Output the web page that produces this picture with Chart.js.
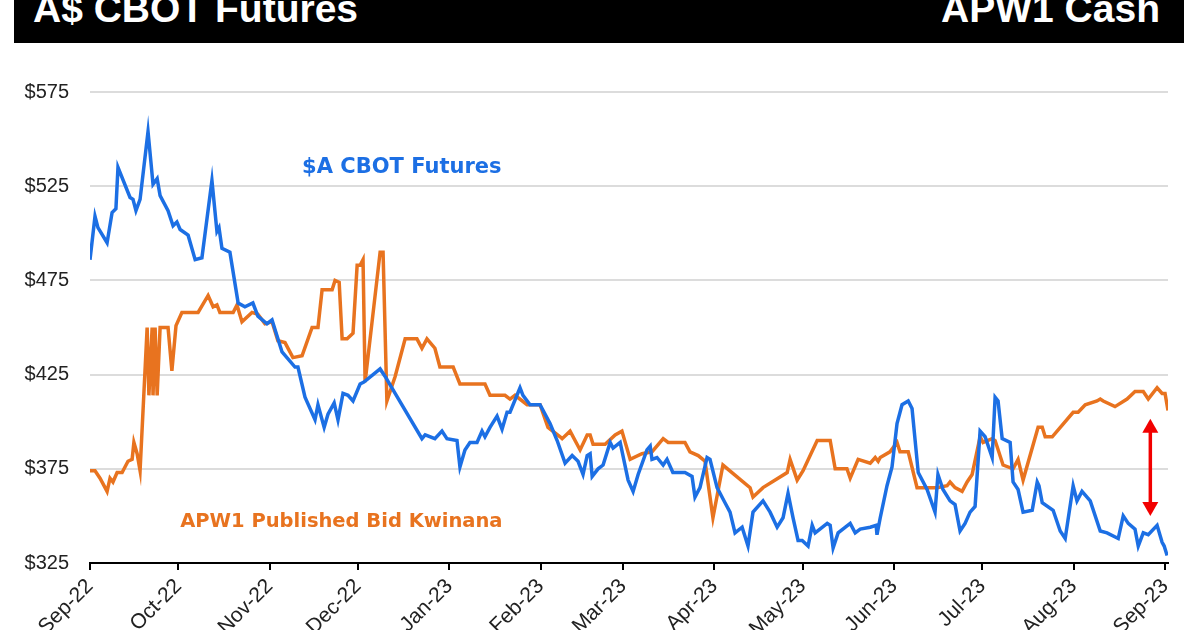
<!DOCTYPE html>
<html>
<head>
<meta charset="utf-8">
<script src="https://cdn.jsdelivr.net/npm/chart.js@4.4.0/dist/chart.umd.min.js"></script>
<style>
  body { margin: 0; background: #fff; }
  #wrap { position: relative; width: 1200px; height: 630px; overflow: hidden; }
  #bar { position: absolute; left: 14px; top: 0; width: 1170px; height: 43px; background: #000; overflow: hidden; }
  #bar span { position: absolute; top: -11px; font: bold 39px/39px "Liberation Sans", Arial, sans-serif; color: #fff; white-space: nowrap; }
  canvas { position: absolute; left: 0; top: 0; }
</style>
</head>
<body>
<div id="wrap">
  <canvas id="chart" width="1200" height="630"></canvas>
  <div id="bar"><span style="left:19px">A$ CBOT Futures</span><span style="right:24px">APW1 Cash</span></div>
</div>
<script>
// x values are days since 1 Sep 2022
const monthDays = [ 0, 30, 61, 91, 122, 153, 181, 212, 242, 273, 303, 334, 365 ]
const monthLabels = [ 'Sep-22', 'Oct-22', 'Nov-22', 'Dec-22', 'Jan-23', 'Feb-23', 'Mar-23', 'Apr-23', 'May-23', 'Jun-23', 'Jul-23', 'Aug-23', 'Sep-23' ]
const yTicks = [ 325, 375, 425, 475, 525, 575 ]

// $A CBOT futures
const futDay = [ 0,1.7,2.7,5.8,7.5,8.8,9.5,13.6,14.6,15.6,17,19.7,21.4,22.8,23.8,26.5,28.2,29.5,30.6,33.3,35.7,38,41.4,43.1,43.8,44.8,47.5,50.3,52.6,55.3,57,60.1,61.8,65.2,69.6,70.6,73,76.4,77.4,79.5,80.8,82.9,84.2,85.9,87.6,89.3,91.7,93,98.5,100.2,103.6,112.7,113.8,117.1,119.5,121.2,124.6,125.6,127.3,129,131.4,133.1,134.1,135.8,138.2,139.9,141.6,142.6,146,147,149.4,152.8,156.2,158.6,161.3,163.7,165.7,167.4,168.8,169.8,170.5,172.5,174.2,176.6,177.6,180,182.7,184.4,186.1,189.1,190.2,190.8,192.5,194.6,195.9,197.9,202,204.4,205.4,207.1,209.5,210.5,212.9,215.6,217.3,219,221.4,223.4,225.1,228.5,230.9,233.3,235.3,237,238.7,240.4,241.8,243.8,245.2,246.2,250.3,251.3,252.3,254,258.1,259.8,261.5,264.9,266.9,267.2,268.3,270.6,272.3,274,275.7,277.8,279.1,281.2,284.2,286.9,287.9,289.6,292,293.7,295.4,297.1,298.8,300.5,302.2,303.9,306.3,307.3,308.3,309.7,312.4,313.4,315.1,316.8,319.9,321.6,322.2,323.3,327,329.4,331.1,333.8,335.1,336.8,339.6,343,345.3,349.1,350.8,352.5,354.8,355.9,357.6,359.3,362.3,364,364.7,365.7 ]
const futVal = [ 486,509,503,495,511,513,535,519,518,512,518,554,526,529,520,512,504,506,502,499,486,487,528,501,503,492,490,463,461,463,456,452,454,437,429,429,413,401,409,397,404,410,401,415,414,411,420,421,428,424,415,391,393,391,395,391,390,376,385,389,389,395,392,397,403,396,405,405,418,414,409,409,399,390,378,382,379,372,382,383,371,375,377,389,386,389,369,363,372,385,387,380,381,377,380,373,373,371,360,365,381,380,365,357,352,341,344,334,352,358,352,344,349,362,349,337,337,334,345,341,346,345,333,341,346,341,343,344,345,340,349,366,376,399,409,411,407,373,364,352,372,364,358,356,342,346,352,355,395,392,381,413,411,391,389,368,364,352,353,368,366,357,353,342,338,366,358,363,358,342,341,338,350,346,343,334,341,340,345,336,334,329 ]

// APW1 published bid Kwinana
const cashDay = [ 0,1.7,3.4,5.8,6.8,7.8,9.2,10.9,12.9,14.3,14.9,16,17,19.4,20,21.1,21.4,22.1,22.8,23.8,26.5,27.8,29.2,31.2,36.7,40.1,41.8,43.1,44.1,48.6,49.9,51.6,55,57,59.4,61.8,63.8,66.2,68.9,72,75.4,77.4,78.8,82.2,83.2,84.6,85.6,87.3,89.3,90.7,91.7,92.7,93.4,98.5,99.5,100.8,103.6,107,111,112.7,114.4,117.1,118.8,123.3,125.6,134.1,135.8,140.9,142.6,144.3,148.4,152.8,155.5,159.6,160.3,163,166.4,168.8,169.8,170.8,174.9,178.3,180.6,183.4,187.4,190.8,194.6,196.3,202,203.7,206.5,208.8,211.5,214.9,224.1,225.1,228.5,236.7,237.7,240.1,242.1,244.5,246.9,251.3,253,257,258.1,260.8,264.9,266.6,267.6,268.3,271.6,274,275,277.8,280.8,287.6,291,292,293.7,296.1,297.8,299.5,302.2,303.2,306.3,307.3,310,313.4,315.1,316.8,321.9,323.3,324.3,326.7,333.8,335.5,337.9,341.9,343,344,348,352.1,354.8,357.6,359.3,362.3,364,365,366 ]
const cashVal = [ 374,374,370,363,370,368,373,373,379,380,389,383,374,450,414,450,414,450,414,450,450,427,451,458,458,467,461,462,458,458,462,453,458,457,452,453,443,442,434,435,450,450,470,470,475,474,444,444,447,483,483,486,421,490,490,411,424,444,444,439,444,439,429,429,420,420,414,414,412,414,409,409,397,392,391,395,385,393,393,388,388,393,395,380,383,384,391,389,389,384,382,379,349,377,365,360,365,373,380,369,374,382,390,390,375,375,370,380,378,381,379,381,384,389,384,384,365,365,366,368,365,363,368,372,392,389,391,390,377,375,380,369,397,397,392,392,405,405,409,411,412,411,408,412,416,416,412,418,415,415,406 ]

const BLUE = '#1c6fe4'
const ORANGE = '#e8731f'

const toPoints = ( xs, ys ) => xs.map( ( x, i ) => ( { x, y: ys[ i ] } ) )

const notes = {
  id: 'notes',
  afterDatasetsDraw( chart ) {
    const { ctx, scales: { x, y } } = chart
    ctx.save()
    ctx.textBaseline = 'middle'
    ctx.font = 'bold 21px "DejaVu Sans", sans-serif'
    ctx.fillStyle = BLUE
    ctx.fillText( '$A CBOT Futures', x.getPixelForValue( 72 ), y.getPixelForValue( 535 ) )
    ctx.font = 'bold 19.5px "DejaVu Sans", sans-serif'
    ctx.fillStyle = ORANGE
    ctx.fillText( 'APW1 Published Bid Kwinana', x.getPixelForValue( 30.6 ), y.getPixelForValue( 347 ) )

    // red double arrow showing the gap
    const ax = x.getPixelForValue( 360 )
    const top = y.getPixelForValue( 401.5 )
    const bot = y.getPixelForValue( 350 )
    ctx.strokeStyle = ctx.fillStyle = '#f20000'
    ctx.lineWidth = 3.5
    ctx.beginPath()
    ctx.moveTo( ax, top + 10 )
    ctx.lineTo( ax, bot - 10 )
    ctx.stroke()
    ctx.beginPath()
    ctx.moveTo( ax, top ); ctx.lineTo( ax - 8, top + 14 ); ctx.lineTo( ax + 8, top + 14 ); ctx.closePath()
    ctx.fill()
    ctx.beginPath()
    ctx.moveTo( ax, bot ); ctx.lineTo( ax - 8, bot - 14 ); ctx.lineTo( ax + 8, bot - 14 ); ctx.closePath()
    ctx.fill()
    ctx.restore()
  }
}

new Chart( document.getElementById( 'chart' ), {
  type: 'line',
  data: {
    datasets: [
      {
        label: '$A CBOT Futures',
        data: toPoints( futDay, futVal ),
        borderColor: BLUE,
        borderWidth: 3.5,
        pointRadius: 0,
        tension: 0
      },
      {
        label: 'APW1 Published Bid Kwinana',
        data: toPoints( cashDay, cashVal ),
        borderColor: ORANGE,
        borderWidth: 3.5,
        pointRadius: 0,
        tension: 0
      }
    ]
  },
  options: {
    responsive: false,
    animation: false,
    layout: { padding: { top: 92, right: 32, left: 0, bottom: 0 } },
    plugins: { legend: { display: false }, tooltip: { enabled: false } },
    scales: {
      x: {
        type: 'linear',
        min: 0,
        max: 366,
        afterBuildTicks: scale => { scale.ticks = monthDays.map( v => ( { value: v } ) ) },
        afterFit: scale => { scale.height = 67 },
        border: { display: true, color: '#000', width: 2 },
        grid: { display: true, drawOnChartArea: false, color: '#000', lineWidth: 2, tickLength: 7 },
        ticks: {
          autoSkip: false,
          minRotation: 45,
          maxRotation: 45,
          padding: 4,
          color: '#222',
          font: { family: '"Liberation Sans", Arial, sans-serif', size: 21 },
          callback: v => monthLabels[ monthDays.indexOf( v ) ]
        }
      },
      y: {
        min: 325,
        max: 575,
        afterBuildTicks: scale => { scale.ticks = yTicks.map( v => ( { value: v } ) ) },
        afterFit: scale => { scale.width = 90 },
        border: { display: false },
        grid: { color: '#dcdcdc', lineWidth: 2, drawTicks: false },
        ticks: {
          padding: 21,
          color: '#222',
          font: { family: '"Liberation Sans", Arial, sans-serif', size: 20 },
          callback: v => '$' + v
        }
      }
    }
  },
  plugins: [ notes ]
} )
</script>
</body>
</html>
